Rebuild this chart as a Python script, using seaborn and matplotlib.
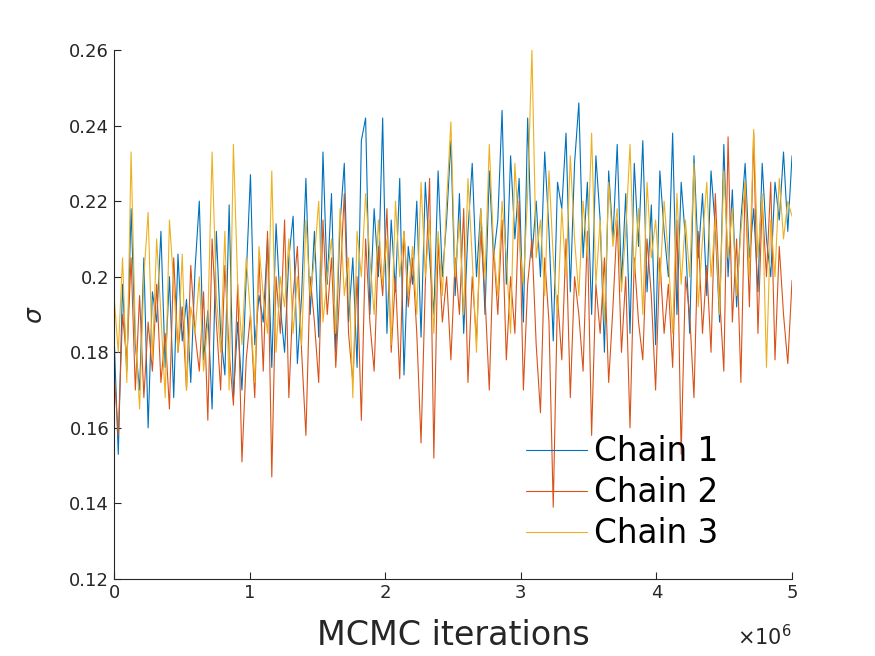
import matplotlib
matplotlib.use("Agg")
import matplotlib.pyplot as plt
import numpy as np
import pandas as pd
import seaborn as sns
from matplotlib.ticker import FuncFormatter

# sigma traces (each chain has the same number of samples)
chain1 = [
    0.185, 0.153, 0.198, 0.175, 0.218, 0.182, 0.170, 0.205, 0.160, 0.196,
    0.188, 0.212, 0.176, 0.200, 0.168, 0.206, 0.183, 0.194, 0.172, 0.202,
    0.220, 0.178, 0.191, 0.165, 0.212, 0.185, 0.174, 0.219, 0.168, 0.188,
    0.170, 0.200, 0.227, 0.182, 0.195, 0.188, 0.210, 0.176, 0.214, 0.192,
    0.180, 0.205, 0.216, 0.177, 0.195, 0.226, 0.190, 0.212, 0.184, 0.233,
    0.198, 0.222, 0.180, 0.214, 0.230, 0.188, 0.205, 0.176, 0.236, 0.242,
    0.190, 0.218, 0.200, 0.242, 0.185, 0.215, 0.196, 0.226, 0.174, 0.208,
    0.198, 0.220, 0.184, 0.225, 0.205, 0.190, 0.228, 0.200, 0.215, 0.236,
    0.195, 0.222, 0.185, 0.212, 0.230, 0.200, 0.218, 0.190, 0.228, 0.205,
    0.215, 0.244, 0.198, 0.232, 0.210, 0.226, 0.188, 0.242, 0.205, 0.220,
    0.200, 0.233, 0.212, 0.183, 0.225, 0.218, 0.238, 0.196, 0.230, 0.246,
    0.205, 0.225, 0.190, 0.232, 0.215, 0.180, 0.228, 0.210, 0.235, 0.198,
    0.222, 0.185, 0.230, 0.208, 0.236, 0.196, 0.219, 0.182, 0.228, 0.212,
    0.200, 0.238, 0.190, 0.225, 0.210, 0.185, 0.232, 0.205, 0.222, 0.195,
    0.228, 0.213, 0.188, 0.235, 0.200, 0.223, 0.192, 0.215, 0.230, 0.205,
    0.218, 0.196, 0.230, 0.210, 0.200, 0.225, 0.215, 0.233, 0.212, 0.232,
]
chain2 = [
    0.175, 0.158, 0.190, 0.178, 0.205, 0.170, 0.195, 0.168, 0.188, 0.175,
    0.198, 0.172, 0.185, 0.165, 0.205, 0.180, 0.192, 0.170, 0.203, 0.185,
    0.175, 0.196, 0.162, 0.210, 0.188, 0.170, 0.203, 0.180, 0.166, 0.198,
    0.151, 0.178, 0.190, 0.168, 0.205, 0.175, 0.212, 0.147, 0.200, 0.185,
    0.215, 0.168, 0.195, 0.208, 0.180, 0.158, 0.200, 0.188, 0.172, 0.215,
    0.190, 0.205, 0.176, 0.198, 0.222, 0.185, 0.172, 0.200, 0.162, 0.210,
    0.188, 0.175, 0.208, 0.195, 0.218, 0.180, 0.200, 0.173, 0.212, 0.192,
    0.205, 0.185, 0.156, 0.198, 0.226, 0.152, 0.210, 0.188, 0.200, 0.178,
    0.205, 0.190, 0.218, 0.172, 0.200, 0.183, 0.212, 0.195, 0.170, 0.208,
    0.190, 0.215, 0.178, 0.200, 0.185, 0.220, 0.170, 0.198, 0.210, 0.182,
    0.164, 0.205, 0.188, 0.139, 0.195, 0.178, 0.210, 0.168, 0.200, 0.190,
    0.175, 0.212, 0.158, 0.198, 0.185, 0.205, 0.172, 0.192, 0.215, 0.180,
    0.200, 0.160, 0.205, 0.188, 0.178, 0.210, 0.195, 0.170, 0.205, 0.185,
    0.198, 0.176, 0.215, 0.153, 0.200, 0.190, 0.168, 0.212, 0.185, 0.203,
    0.180, 0.222, 0.195, 0.175, 0.237, 0.188, 0.210, 0.172, 0.225, 0.192,
    0.238, 0.185, 0.220, 0.200, 0.225, 0.178, 0.208, 0.190, 0.177, 0.199,
]
chain3 = [
    0.195, 0.180, 0.205, 0.172, 0.233, 0.185, 0.165, 0.200, 0.217, 0.178,
    0.210, 0.190, 0.168, 0.215, 0.198, 0.180, 0.206, 0.170, 0.192, 0.185,
    0.200, 0.175, 0.188, 0.233, 0.195, 0.180, 0.212, 0.170, 0.235, 0.198,
    0.182, 0.205, 0.190, 0.172, 0.208, 0.195, 0.185, 0.228, 0.180, 0.200,
    0.192, 0.210, 0.185, 0.200, 0.182, 0.215, 0.195, 0.205, 0.220, 0.188,
    0.200, 0.210, 0.185, 0.218, 0.195, 0.205, 0.168, 0.212, 0.200, 0.222,
    0.205, 0.190, 0.215, 0.198, 0.210, 0.182, 0.220, 0.200, 0.212, 0.195,
    0.208, 0.190, 0.225, 0.200, 0.215, 0.185, 0.212, 0.195, 0.220, 0.241,
    0.200, 0.215, 0.190, 0.226, 0.205, 0.180, 0.218, 0.200, 0.235, 0.208,
    0.195, 0.220, 0.205, 0.185, 0.230, 0.210, 0.198, 0.222, 0.260, 0.205,
    0.215, 0.195, 0.228, 0.205, 0.190, 0.218, 0.200, 0.232, 0.210, 0.195,
    0.220, 0.205, 0.238, 0.198, 0.215, 0.188, 0.225, 0.208, 0.218, 0.196,
    0.212, 0.235, 0.200, 0.218, 0.190, 0.225, 0.205, 0.215, 0.198, 0.220,
    0.205, 0.185, 0.222, 0.198, 0.215, 0.200, 0.230, 0.192, 0.210, 0.225,
    0.200, 0.215, 0.190, 0.228, 0.205, 0.218, 0.195, 0.212, 0.225, 0.200,
    0.239, 0.205, 0.222, 0.176, 0.215, 0.200, 0.226, 0.210, 0.220, 0.216,
]
chain_names = ["Chain 1", "Chain 2", "Chain 3"]
colors = ["#0072BD", "#D95319", "#EDB120"]
max_iter = 5e6

iters = np.linspace(0, max_iter, len(chain1))
df = pd.DataFrame({
    "iteration": np.concatenate([iters, iters, iters]),
    "sigma": chain1 + chain2 + chain3,
    "chain": np.repeat(chain_names, len(chain1)),
})

sns.set_style("ticks")
fig = plt.figure(figsize=(8.75, 6.56), dpi=100)
ax = fig.add_axes([0.1303, 0.1174, 0.7749, 0.8064])

sns.lineplot(data=df, x="iteration", y="sigma", hue="chain",
             palette=colors, linewidth=0.8, ax=ax, estimator=None)

ax.set_xlim(0, max_iter)
ax.set_ylim(0.12, 0.26)
ax.set_yticks([0.12, 0.14, 0.16, 0.18, 0.2, 0.22, 0.24, 0.26])
ax.yaxis.set_major_formatter(FuncFormatter(lambda v, p: "%g" % round(v, 2)))
ax.set_xticks([0, 1e6, 2e6, 3e6, 4e6, 5e6])
ax.xaxis.set_major_formatter(FuncFormatter(lambda v, p: "%g" % (v / 1e6)))

ax.tick_params(direction="in", length=5, labelsize=13, colors="#262626")
sns.despine(ax=ax)
for s in ["left", "bottom"]:
    ax.spines[s].set_color("#262626")

ax.set_xlabel("MCMC iterations", fontsize=24, color="#262626", labelpad=12)
ax.set_ylabel(r"$\sigma$", fontsize=18, color="#262626", labelpad=16)
fig.text(0.905, 0.029, r"$\times10^{6}$", fontsize=15, color="#262626",
         ha="right", va="center")

leg = ax.legend(loc="center", bbox_to_anchor=(0.749, 0.163), frameon=False,
                fontsize=23.5, handlelength=1.87, labelspacing=0.25,
                handletextpad=0.22)
for line in leg.get_lines():
    line.set_linewidth(0.8)
for t in leg.get_texts():
    t.set_color("black")

fig.savefig("out.png", dpi=100)
